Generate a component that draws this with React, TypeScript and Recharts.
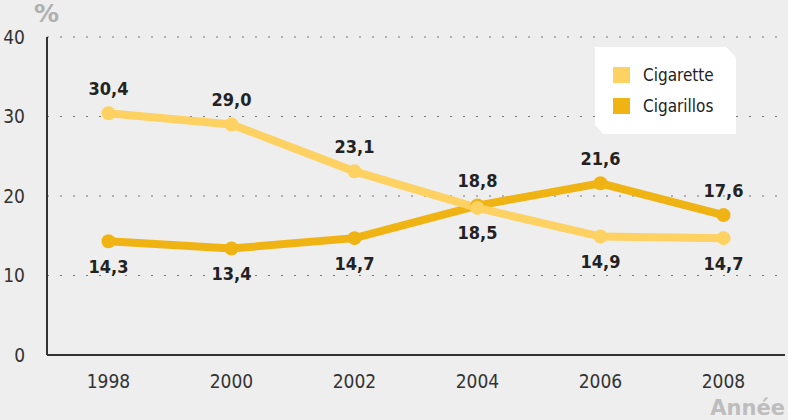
import { LineChart, Line, XAxis, YAxis, CartesianGrid, LabelList } from "recharts";

const years = [1998, 2000, 2002, 2004, 2006, 2008];
const cigarette = [30.4, 29.0, 23.1, 18.5, 14.9, 14.7];
const cigarillos = [14.3, 13.4, 14.7, 18.8, 21.6, 17.6];
const yTicks = [0, 10, 20, 30, 40];

const data = years.map((year, i) => ({
  year,
  cigarette: cigarette[i],
  cigarillos: cigarillos[i],
}));

const FONT = "'Liberation Sans Narrow', 'DejaVu Sans Condensed', 'Roboto', sans-serif";
const LIGHT = "#fdd162";
const DARK = "#efb314";

const fmt = (v: number) => v.toFixed(1).replace(".", ",");

// label goes above the point when this series is the higher of the two
const makeLabel = (own: number[], other: number[]) => (props: any) => {
  const { x, y, index, value } = props;
  const above = own[index] >= other[index];
  return (
    <text
      x={x}
      y={above ? y - 25 : y + 25}
      textAnchor="middle"
      dominantBaseline="central"
      fontFamily={FONT}
      fontWeight="bold"
      fontSize={18}
      fill="#222"
    >
      {fmt(value)}
    </text>
  );
};

const Legend = () => (
  <div
    style={{
      position: "absolute",
      left: 595,
      top: 47,
      width: 141,
      height: 87,
      background: "#fff",
      clipPath: "polygon(0 0, 93% 0, 100% 12%, 100% 100%, 6% 100%, 0 90%)",
      fontFamily: FONT,
      fontSize: 17,
      color: "#222",
    }}
  >
    {[
      { name: "Cigarette", color: LIGHT, top: 18 },
      { name: "Cigarillos", color: DARK, top: 49 },
    ].map((it) => (
      <div key={it.name} style={{ position: "absolute", left: 18, top: it.top, display: "flex", alignItems: "center" }}>
        <span style={{ width: 17, height: 16, background: it.color, display: "inline-block", marginRight: 13 }} />
        <span>{it.name}</span>
      </div>
    ))}
  </div>
);

export default function App() {
  return (
    <div style={{ position: "absolute", left: 0, top: 0, width: 788, height: 420, background: "#eeeeee" }}>
      <LineChart width={788} height={420} data={data} margin={{ top: 37, right: 3, bottom: 35, left: 0 }}>
        <CartesianGrid vertical={false} stroke="#777" strokeDasharray="2 11" />
        <XAxis
          dataKey="year"
          type="number"
          domain={[1997, 2009]}
          ticks={years}
          tickLine={false}
          axisLine={{ stroke: "#333", strokeWidth: 2 }}
          tick={{ fontFamily: FONT, fontSize: 19, fill: "#333" }}
          tickMargin={14}
          height={30}
        />
        <YAxis
          domain={[0, 40]}
          ticks={yTicks}
          tickLine={false}
          axisLine={{ stroke: "#333", strokeWidth: 2 }}
          tick={{ fontFamily: FONT, fontSize: 19, fill: "#333" }}
          tickMargin={16}
          width={47}
        />
        <Line
          dataKey="cigarillos"
          stroke={DARK}
          strokeWidth={8}
          dot={{ r: 7, fill: DARK, stroke: "none" }}
          isAnimationActive={false}
        >
          <LabelList dataKey="cigarillos" content={makeLabel(cigarillos, cigarette)} />
        </Line>
        <Line
          dataKey="cigarette"
          stroke={LIGHT}
          strokeWidth={8}
          dot={{ r: 7, fill: LIGHT, stroke: "none" }}
          isAnimationActive={false}
        >
          <LabelList dataKey="cigarette" content={makeLabel(cigarette, cigarillos)} />
        </Line>
        <text x={34} y={22} fontFamily="'DejaVu Sans', sans-serif" fontWeight="bold" fontSize={25} fill="#b0b0b0">
          %
        </text>
        <text x={785} y={415} textAnchor="end" fontFamily="'DejaVu Sans', sans-serif" fontWeight="bold" fontSize={21} fill="#bdbdbd">
          Année
        </text>
      </LineChart>
      <Legend />
    </div>
  );
}
